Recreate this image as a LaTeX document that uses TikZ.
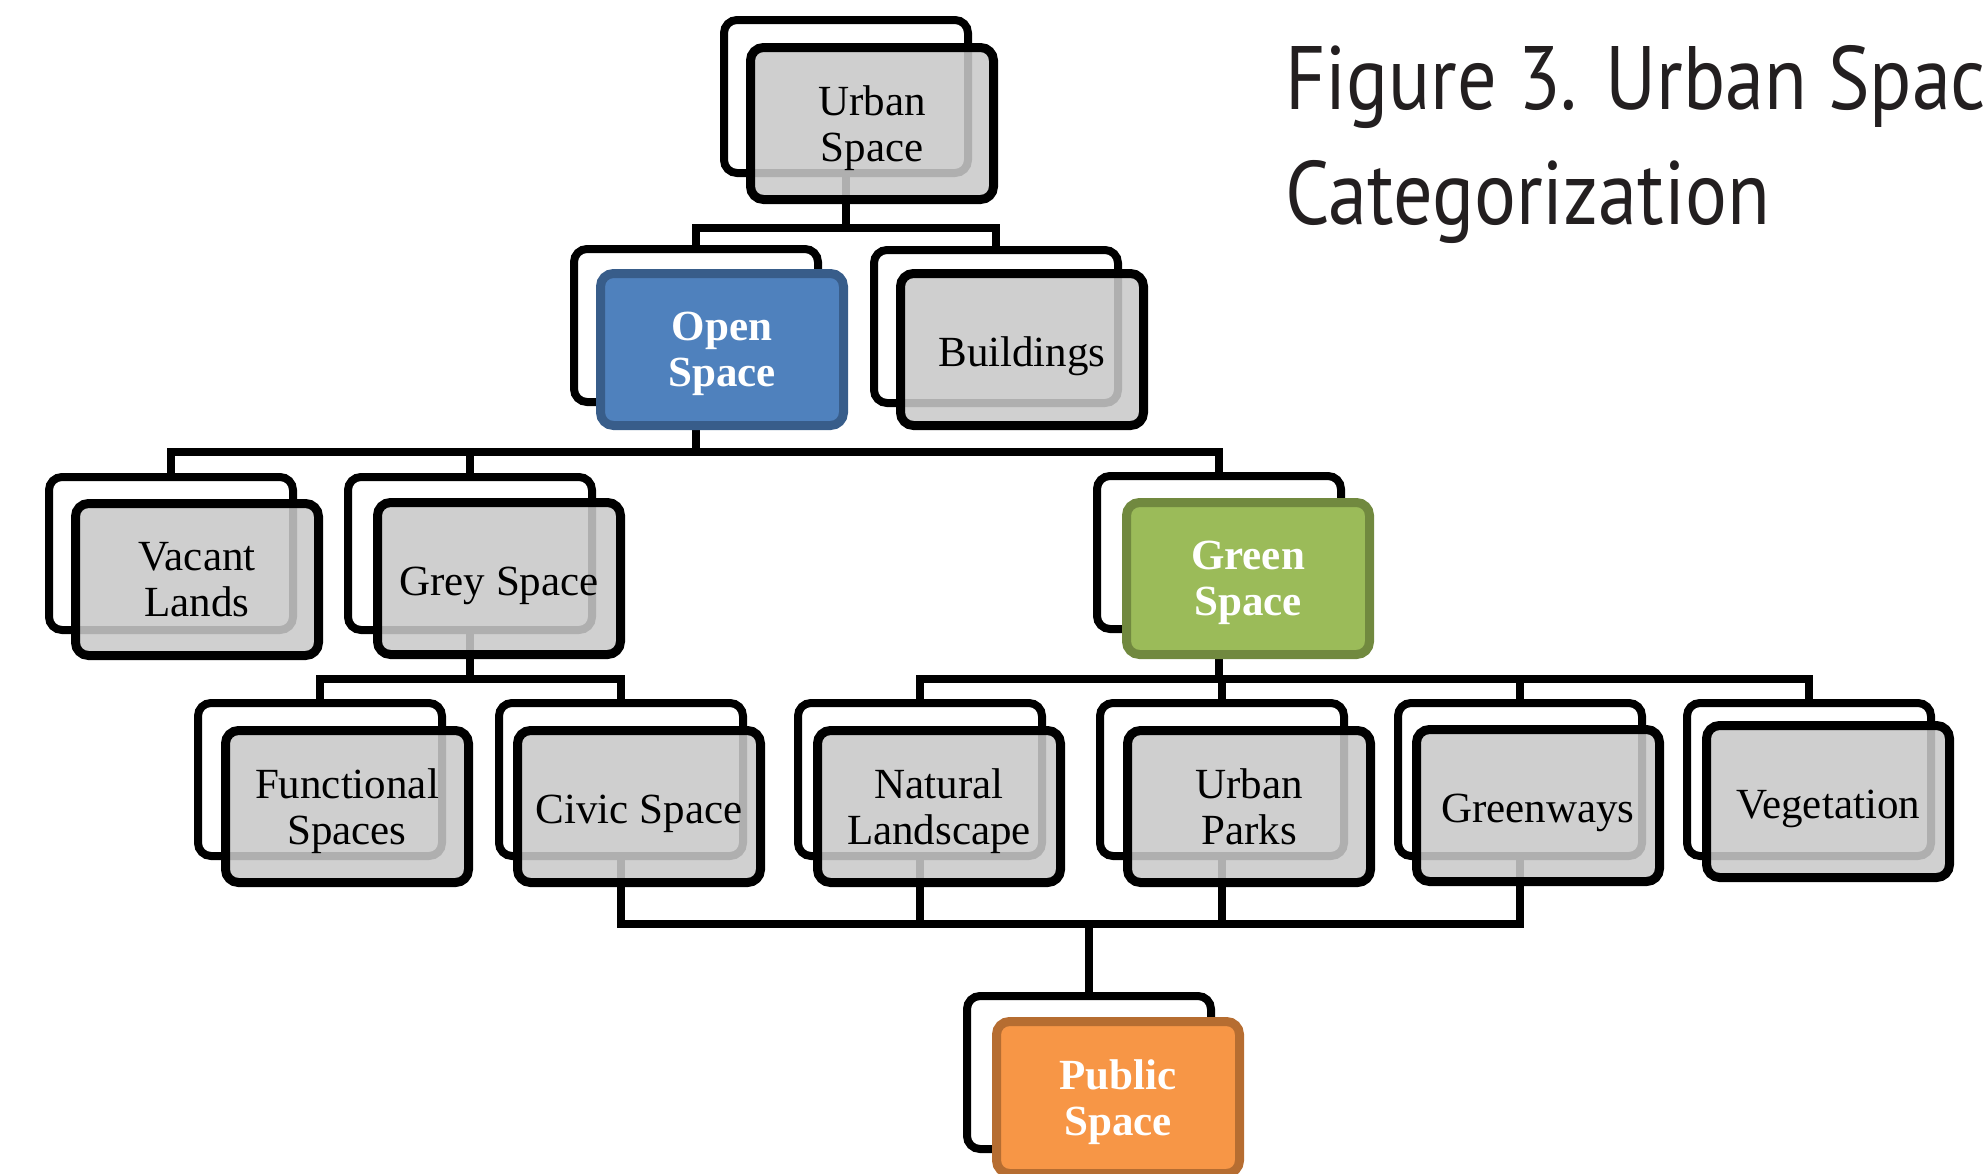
\documentclass[tikz,border=0pt]{standalone}
\usepackage{fontspec}
\setmainfont{Liberation Serif}
\newfontfamily\ttlfont[FakeStretch=0.87]{PT Sans}
\definecolor{boxgrey}{RGB}{201,201,201}
\definecolor{osfill}{RGB}{79,129,189}
\definecolor{osdraw}{RGB}{56,93,138}
\definecolor{gsfill}{RGB}{155,187,89}
\definecolor{gsdraw}{RGB}{113,137,63}
\definecolor{psfill}{RGB}{247,150,70}
\definecolor{psdraw}{RGB}{182,109,49}
\definecolor{ttlcol}{RGB}{35,31,32}
\tikzset{
  backbox/.style={draw=black, line width=8pt, fill=white, rounded corners=13pt,
    minimum width=244pt, minimum height=153pt, inner sep=0pt},
  frontbox/.style={draw=black, line width=9pt, fill=boxgrey, fill opacity=0.875,
    text opacity=1, rounded corners=13pt, minimum width=243pt, minimum height=152pt,
    inner sep=0pt, align=center, text=black, font={\fontsize{43}{46}\selectfont}},
  colbox/.style 2 args={frontbox, fill=#1, fill opacity=1, draw=#2, text=white,
    font={\fontsize{43}{46}\selectfont\bfseries}},
  oneline/.style={text height=34pt, text depth=0pt},
  conn/.style={draw=black, line width=8pt},
  ttl/.style={anchor=base west, text=ttlcol, inner sep=0pt, font={\ttlfont\fontsize{90}{110}\selectfont}}
}
\begin{document}
\begin{tikzpicture}[x=1pt,y=-1pt]
\useasboundingbox (0,0) rectangle (1983,1173);
\clip (0,0) rectangle (1983,1173);
% back boxes
\node[backbox] (us) at (846,96.5) {};
\node[backbox] (os) at (696,325.5) {};
\node[backbox] (bd) at (996,326.5) {};
\node[backbox] (vl) at (171,553.5) {};
\node[backbox] (gy) at (470,553.5) {};
\node[backbox] (gn) at (1219,552.5) {};
\node[backbox] (fs) at (320,779.5) {};
\node[backbox] (cs) at (621,779.5) {};
\node[backbox] (nl) at (920,779.5) {};
\node[backbox] (up) at (1222,779.5) {};
\node[backbox] (gw) at (1520,779.5) {};
\node[backbox] (vg) at (1809,779.5) {};
\node[backbox] (ps) at (1089,1072.5) {};
% junctions
\coordinate (j1) at (846,228);
\coordinate (j2) at (696,452);
\coordinate (j3) at (470,679);
\coordinate (j4) at (1219,679);
\coordinate (j5) at (1089,924);
% connectors
\draw[conn] (us.south) -- (j1);
\draw[conn] (os.north) |- (j1) -| (bd.north);
\draw[conn] (os.south) -- (j2);
\draw[conn] (vl.north) |- (j2) -| (gn.north);
\draw[conn] (gy.north) -- (gy.north |- j2);
\draw[conn] (gy.south) -- (j3);
\draw[conn] (fs.north) |- (j3) -| (cs.north);
\draw[conn] (gn.south) -- (j4);
\draw[conn] (nl.north) |- (j4) -| (vg.north);
\draw[conn] (up.north) -- (up.north |- j4);
\draw[conn] (gw.north) -- (gw.north |- j4);
\draw[conn] (cs.south) |- (j5) -| (gw.south);
\draw[conn] (nl.south) -- (nl.south |- j5);
\draw[conn] (up.south) -- (up.south |- j5);
\draw[conn] (j5) -- (ps.north);
% front boxes
\node[frontbox] (usF) at (872,123.5) {Urban\\\smash{Space}};
\node[colbox={osfill}{osdraw}] (osF) at (722,349.5) {Open\\\smash{Space}};
\node[frontbox, oneline] (bdF) at (1022,349.5) {Buildings};
\node[frontbox] (vlF) at (197,579.5) {Vacant\\\smash{Lands}};
\node[frontbox, oneline] (gyF) at (499,578.5) {Grey Space};
\node[colbox={gsfill}{gsdraw}] (gnF) at (1248,578.5) {Green\\\smash{Space}};
\node[frontbox] (fsF) at (347,806.5) {Functional\\\smash{Spaces}};
\node[frontbox, oneline] (csF) at (639,806.5) {Civic Space};
\node[frontbox] (nlF) at (939,806.5) {Natural\\\smash{Landscape}};
\node[frontbox] (upF) at (1249,806.5) {Urban\\\smash{Parks}};
\node[frontbox, oneline] (gwF) at (1538,805.5) {Greenways};
\node[frontbox, oneline] (vgF) at (1828,801.5) {Vegetation};
\node[colbox={psfill}{psdraw}] (psF) at (1118,1097.5) {Public\\\smash{Space}};
% title
\node[ttl] (t1) at (1285,109) {Figure 3. Urban Space};
\node[ttl] (t2) at (1285,224) {Categorization};
\end{tikzpicture}
\end{document}
